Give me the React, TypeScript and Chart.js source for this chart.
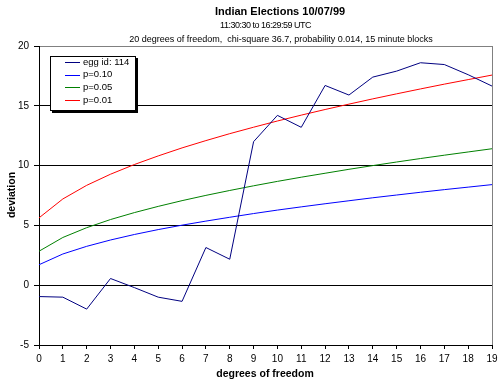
import React, { useEffect, useRef } from "react";
import { Chart, registerables } from "chart.js";

Chart.register(...registerables);

const categories = ["0","1","2","3","4","5","6","7","8","9","10","11","12","13","14","15","16","17","18","19"];
const eggValues = [-0.95, -1.0, -2.0, 0.56, -0.2, -1.0, -1.35, 3.15, 2.17, 12.0, 14.2, 13.2, 16.7, 15.9, 17.4, 17.9, 18.6, 18.45, 17.6, 16.65];
const p10Values = [1.71, 2.61, 3.25, 3.78, 4.24, 4.65, 5.02, 5.36, 5.68, 5.99, 6.28, 6.55, 6.81, 7.06, 7.31, 7.54, 7.77, 7.99, 8.20, 8.41];
const p05Values = [2.84, 3.99, 4.81, 5.49, 6.07, 6.59, 7.07, 7.51, 7.92, 8.31, 8.68, 9.03, 9.36, 9.69, 10.00, 10.30, 10.59, 10.87, 11.14, 11.41];
const p01Values = [5.63, 7.21, 8.35, 9.28, 10.09, 10.81, 11.48, 12.09, 12.67, 13.21, 13.73, 14.22, 14.69, 15.14, 15.58, 16.00, 16.41, 16.81, 17.19, 17.57];
const seriesNames = ["egg id: 114", "p=0.10", "p=0.05", "p=0.01"];
const seriesColors = ["#000080", "#0000FF", "#008000", "#FF0000"];
const titleText = "Indian Elections 10/07/99";
const subtitleLines = ["11:30:30 to 16:29:59 UTC", "20 degrees of freedom,  chi-square 36.7, probability 0.014, 15 minute blocks"];
const xAxisTitle = "degrees of freedom";
const yAxisTitle = "deviation";

const FONT = "Arial, 'Liberation Sans', sans-serif";

const decorPlugin = {
  id: "decor",
  afterDraw(chart: any) {
    const ctx = chart.ctx as any;
    const a = chart.chartArea;
    ctx.save();
    ctx.setLineDash([]);
    // right plot border
    ctx.strokeStyle = "#808080";
    ctx.lineWidth = 1;
    ctx.beginPath();
    ctx.moveTo(Math.round(a.right) + 0.5, a.top);
    ctx.lineTo(Math.round(a.right) + 0.5, a.bottom);
    ctx.stroke();

    // titles
    ctx.fillStyle = "#000";
    ctx.textAlign = "center";
    ctx.textBaseline = "middle";
    ctx.font = "bold 11px " + FONT;
    ctx.fillText(titleText, 280, 12);
    ctx.font = "9px " + FONT;
    ctx.letterSpacing = "-0.5px";
    ctx.fillText(subtitleLines[0], 265.5, 26);
    ctx.letterSpacing = "0px";
    ctx.fillText(subtitleLines[1], 281, 40);

    // axis titles
    ctx.font = "bold 10.5px " + FONT;
    ctx.fillText(xAxisTitle, 265, 374);
    ctx.save();
    ctx.translate(12, 195);
    ctx.rotate(-Math.PI / 2);
    ctx.fillText(yAxisTitle, 0, 0);
    ctx.restore();

    // legend
    const lx = 50, ly = 56, lw = 86, lh = 55;
    ctx.fillStyle = "#000";
    ctx.fillRect(lx + 2, ly + 2, lw, lh);
    ctx.fillStyle = "#fff";
    ctx.fillRect(lx, ly, lw, lh);
    ctx.strokeStyle = "#000";
    ctx.lineWidth = 1;
    ctx.strokeRect(lx + 0.5, ly + 0.5, lw - 1, lh - 1);
    ctx.font = "9.5px " + FONT;
    ctx.textAlign = "left";
    ctx.textBaseline = "middle";
    for (let i = 0; i < seriesNames.length; i++) {
      const y = ly + 6 + i * 12.7;
      ctx.strokeStyle = seriesColors[i];
      ctx.lineWidth = 1;
      ctx.beginPath();
      ctx.moveTo(65, Math.round(y) + 0.5);
      ctx.lineTo(80, Math.round(y) + 0.5);
      ctx.stroke();
      ctx.fillStyle = "#000";
      ctx.fillText(seriesNames[i], 83, y);
    }
    ctx.restore();
  },
};

export default function App() {
  const ref = useRef<HTMLCanvasElement>(null);
  useEffect(() => {
    const canvas = ref.current!;
    const values = [eggValues, p10Values, p05Values, p01Values];
    const chart = new Chart(canvas, {
      type: "line",
      data: {
        labels: categories,
        datasets: values.map((v, i) => ({
          label: seriesNames[i],
          data: v,
          borderColor: seriesColors[i],
          backgroundColor: seriesColors[i],
          borderWidth: 1,
          pointRadius: 0,
          tension: 0,
          fill: false,
        })),
      },
      options: {
        responsive: false,
        animation: false,
        devicePixelRatio: 1,
        layout: { padding: { top: 46, right: 0, left: 0, bottom: 0 } },
        plugins: { legend: { display: false }, title: { display: false }, tooltip: { enabled: false } },
        scales: {
          x: {
            type: "category",
            offset: false,
            afterFit: (s: any) => { s.height = 40; s.paddingLeft = 0; s.paddingRight = 6; },
            grid: { drawOnChartArea: false, color: "#000", tickLength: 4, tickColor: "#000" },
            border: { display: true, color: "#000" },
            ticks: { color: "#000", font: { family: FONT, size: 10 }, padding: 4, maxRotation: 0, autoSkip: false },
          },
          y: {
            min: -5,
            max: 20,
            afterFit: (s: any) => { s.width = 39; s.paddingTop = 0; s.paddingBottom = 0; },
            grid: {
              color: (c: any) => (c.tick && c.tick.value === 20 ? "#808080" : "#000"),
              tickColor: "#000",
              tickLength: 5,
            },
            border: { display: true, color: "#000" },
            ticks: { stepSize: 5, color: "#000", font: { family: FONT, size: 10 }, padding: 5 },
          },
        },
      },
      plugins: [decorPlugin],
    } as any);
    return () => chart.destroy();
  }, []);
  return (
    <div style={{ position: "fixed", left: 0, top: 0, width: 498, height: 385, background: "#fff" }}>
      <canvas ref={ref} width={498} height={385} style={{ width: 498, height: 385, display: "block" }} />
    </div>
  );
}
